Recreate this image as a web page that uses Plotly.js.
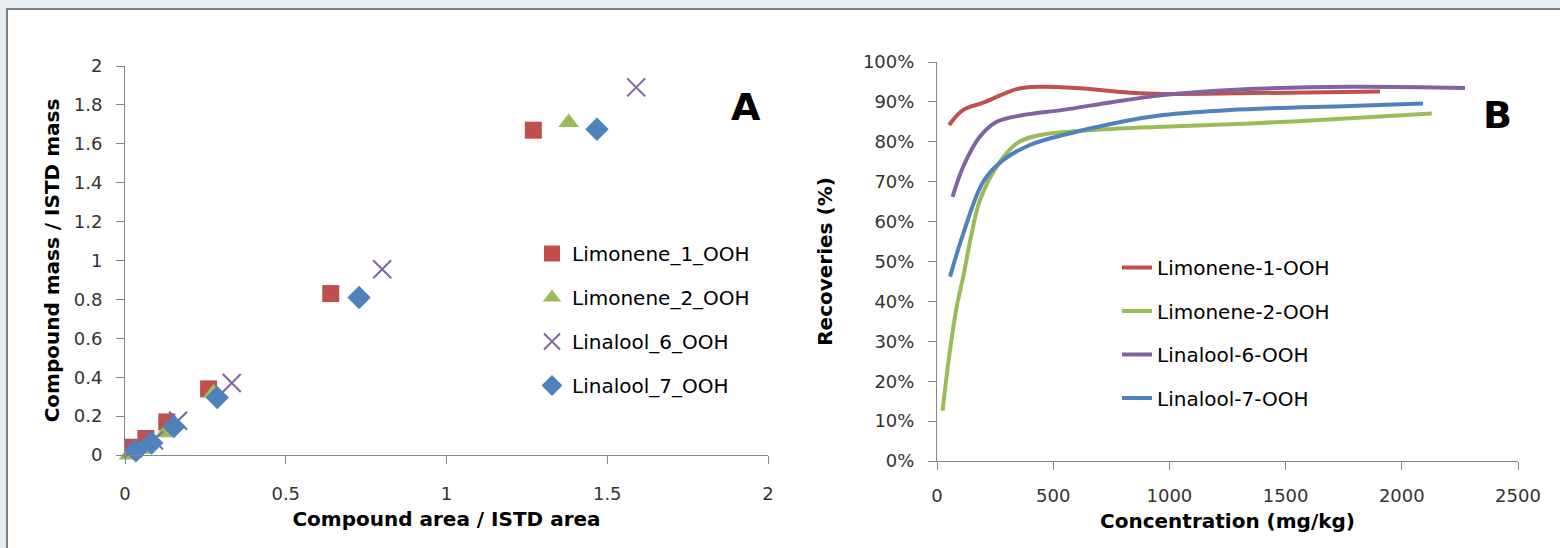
<!DOCTYPE html>
<html>
<head>
<meta charset="utf-8">
<script src="https://cdn.plot.ly/plotly-3.0.1.min.js"></script>
<style>
  html, body { margin: 0; padding: 0; width: 1560px; height: 548px; overflow: hidden; background: #e8edf1; }
  #frame { position: absolute; left: 6px; top: 8px; width: 1560px; height: 548px; background: #ffffff;
           border-top: 2px solid #7f7f7f; border-left: 2px solid #7f7f7f; }
  #chart { position: absolute; left: 0; top: 0; width: 1560px; height: 548px; }
</style>
</head>
<body>
<div id="frame"></div>
<div id="chart"></div>
<script>
// ---------- Panel A: calibration scatter ----------
const seriesA = ["Limonene_1_OOH", "Limonene_2_OOH", "Linalool_6_OOH", "Linalool_7_OOH"];
const lim1X = [0.025, 0.065, 0.13, 0.26, 0.64, 1.27];
const lim1Y = [0.04, 0.085, 0.17, 0.34, 0.83, 1.67];
const lim2X = [0.012, 0.05, 0.125, 0.275, 1.38];
const lim2Y = [0.0, 0.03, 0.115, 0.32, 1.71];
const lin6X = [0.025, 0.09, 0.165, 0.332, 0.80, 1.59];
const lin6Y = [0.035, 0.075, 0.176, 0.37, 0.955, 1.89];
const lin7X = [0.034, 0.083, 0.152, 0.287, 0.728, 1.468];
const lin7Y = [0.022, 0.062, 0.146, 0.295, 0.81, 1.675];

// ---------- Panel B: recoveries ----------
const seriesB = ["Limonene-1-OOH", "Limonene-2-OOH", "Linalool-6-OOH", "Linalool-7-OOH"];
const recLim1X = [52, 113, 199, 343, 443, 615, 830, 973, 1347, 1906];
const recLim1Y = [84.2, 88, 89.8, 93.2, 93.8, 93.4, 92.3, 92.0, 92.2, 92.6];
const recLim2X = [24, 56, 85, 113, 149, 185, 257, 343, 443, 687, 973, 1347, 1777, 2129];
const recLim2Y = [12.6, 27.8, 38.7, 46.2, 57, 65.4, 73.8, 79.6, 81.7, 83, 83.8, 84.6, 85.9, 87.1];
const recLin6X = [67, 113, 185, 257, 370, 543, 758, 974, 1261, 1777, 2272];
const recLin6Y = [66.2, 73.8, 81.3, 85, 86.7, 88, 90, 91.7, 93, 93.8, 93.5];
const recLin7X = [56, 113, 199, 284, 400, 543, 758, 973, 1261, 1777, 2091];
const recLin7Y = [46.2, 57, 70, 75.4, 79.2, 81.7, 84.6, 86.7, 88, 89, 89.6];

const xTicksB = [0, 500, 1000, 1500, 2000, 2500];
const yTicksB = [0, 10, 20, 30, 40, 50, 60, 70, 80, 90, 100];
const yTickTextB = yTicksB.map(v => v + "%");

const RED = "#c0504d", GREEN = "#9bbb59", PURPLE = "#8064a2", BLUE = "#4f81bd";
const FONT = "DejaVu Sans, sans-serif";
const AXC = "#868686";

const traces = [
  {x: lim1X, y: lim1Y, name: seriesA[0], type: "scatter", mode: "markers", xaxis: "x", yaxis: "y",
   marker: {symbol: "square", size: 17, color: RED}, cliponaxis: false, legend: "legend", legendgroup: "a1"},
  {x: lim2X, y: lim2Y, name: seriesA[1], type: "scatter", mode: "markers", xaxis: "x", yaxis: "y",
   marker: {symbol: "triangle-up", size: 18, color: GREEN}, cliponaxis: false, legend: "legend", legendgroup: "a2"},
  {x: lin6X, y: lin6Y, name: seriesA[2], type: "scatter", mode: "markers", xaxis: "x", yaxis: "y",
   marker: {symbol: "x-thin", size: 18, color: PURPLE, line: {color: PURPLE, width: 2}}, cliponaxis: false, legend: "legend", legendgroup: "a3"},
  {x: lin7X, y: lin7Y, name: seriesA[3], type: "scatter", mode: "markers", xaxis: "x", yaxis: "y",
   marker: {symbol: "diamond", size: 18, color: BLUE}, cliponaxis: false, legend: "legend", legendgroup: "a4"},

  {x: recLim1X, y: recLim1Y, name: seriesB[0], type: "scatter", mode: "lines", xaxis: "x2", yaxis: "y2",
   line: {color: RED, width: 4, shape: "spline"}, legend: "legend2", legendgroup: "b1"},
  {x: recLim2X, y: recLim2Y, name: seriesB[1], type: "scatter", mode: "lines", xaxis: "x2", yaxis: "y2",
   line: {color: GREEN, width: 4, shape: "spline"}, legend: "legend2", legendgroup: "b2"},
  {x: recLin6X, y: recLin6Y, name: seriesB[2], type: "scatter", mode: "lines", xaxis: "x2", yaxis: "y2",
   line: {color: PURPLE, width: 4, shape: "spline"}, legend: "legend2", legendgroup: "b3"},
  {x: recLin7X, y: recLin7Y, name: seriesB[3], type: "scatter", mode: "lines", xaxis: "x2", yaxis: "y2",
   line: {color: BLUE, width: 4, shape: "spline"}, legend: "legend2", legendgroup: "b4"}
];

const W = 1560, H = 548;
const axisCommon = {
  showgrid: false, zeroline: false, showline: true, linecolor: AXC, linewidth: 1,
  ticks: "outside", ticklen: 8, tickcolor: AXC, tickwidth: 1,
  tickfont: {family: FONT, size: 18, color: "#333333"}, fixedrange: true
};
const titleFont = {family: FONT, size: 20, color: "#000000", weight: "bold"};

const layout = {
  width: W, height: H,
  margin: {l: 0, r: 0, t: 0, b: 0},
  paper_bgcolor: "rgba(0,0,0,0)", plot_bgcolor: "rgba(0,0,0,0)",
  font: {family: FONT, color: "#000000"},
  showlegend: true,
  xaxis: Object.assign({}, axisCommon, {
    domain: [125 / W, 768 / W], range: [0, 2], dtick: 0.5, anchor: "y",
    ticklabelstandoff: 14,
    title: {text: "Compound area / ISTD area", font: titleFont, standoff: 9}
  }),
  yaxis: Object.assign({}, axisCommon, {
    domain: [1 - 455 / H, 1 - 66 / H], range: [0, 2], dtick: 0.2, anchor: "x",
    ticklabelstandoff: 10,
    title: {text: "Compound mass / ISTD mass", font: titleFont, standoff: 8}
  }),
  xaxis2: Object.assign({}, axisCommon, {
    domain: [937 / W, 1518 / W], range: [0, 2500], tickvals: xTicksB, anchor: "y2",
    ticklabelstandoff: 10,
    title: {text: "Concentration (mg/kg)", font: titleFont, standoff: 9}
  }),
  yaxis2: Object.assign({}, axisCommon, {
    domain: [1 - 461 / H, 1 - 62 / H], range: [0, 100], tickvals: yTicksB, ticktext: yTickTextB, anchor: "x2",
    ticklabelstandoff: 10,
    title: {text: "Recoveries (%)", font: titleFont, standoff: 24}
  }),
  legend: {
    x: 532 / W, y: 1 - 234 / H, xanchor: "left", yanchor: "top",
    bgcolor: "rgba(0,0,0,0)", borderwidth: 0,
    font: {family: FONT, size: 20, color: "#000000"},
    traceorder: "grouped", tracegroupgap: 15
  },
  legend2: {
    x: 1117 / W, y: 1 - 248 / H, xanchor: "left", yanchor: "top",
    bgcolor: "rgba(0,0,0,0)", borderwidth: 0,
    font: {family: FONT, size: 20, color: "#000000"},
    traceorder: "grouped", tracegroupgap: 14.5
  },
  annotations: [
    {text: "A", xref: "paper", yref: "paper", x: 746 / W, y: 1 - 107 / H, showarrow: false,
     xanchor: "center", yanchor: "middle", font: {family: FONT, size: 38, color: "#000000", weight: "bold"}},
    {text: "B", xref: "paper", yref: "paper", x: 1497 / W, y: 1 - 115 / H, showarrow: false,
     xanchor: "center", yanchor: "middle", font: {family: FONT, size: 38, color: "#000000", weight: "bold"}}
  ]
};

Plotly.newPlot("chart", traces, layout, {displayModeBar: false, staticPlot: true});
</script>
</body>
</html>
